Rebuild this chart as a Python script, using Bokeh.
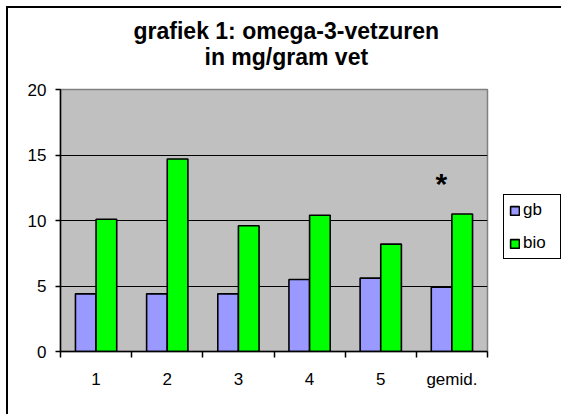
from bokeh.plotting import figure
from bokeh.models import (Range1d, LinearAxis, FixedTicker, Title,
                          Legend, LegendItem, ColumnDataSource, Grid)
from bokeh.transform import dodge
from bokeh.core.properties import value
from bokeh.embed import file_html
from bokeh.resources import INLINE

# ---- data ----
categories = ["1", "2", "3", "4", "5", "gemid."]
gb = [4.4, 4.4, 4.4, 5.5, 5.6, 4.9]
bio = [10.1, 14.7, 9.6, 10.4, 8.2, 10.5]
series_names = ["gb", "bio"]
y_ticks = [0, 5, 10, 15, 20]
title_lines = ["grafiek 1: omega-3-vetzuren", "in mg/gram vet"]
marker_cat = ["gemid."]
marker_y = [12.8]
marker_text = ["*"]

FONT = "Liberation Sans"

n = len(categories)
centers = [i + 0.5 for i in range(n)]

p = figure(x_range=Range1d(0, n), y_range=Range1d(y_ticks[0], y_ticks[-1]),
           frame_width=427, frame_height=262, output_backend="svg", toolbar_location=None,
           x_axis_type=None, y_axis_type=None, title=None,
           min_border_left=52, min_border_right=74, min_border_top=81, min_border_bottom=63)
p.styles = {"border-left": "2px solid black", "border-top": "2px solid black",
            "margin-left": "6px", "margin-top": "6px"}
p.background_fill_color = "#C0C0C0"
p.border_fill_color = "white"
p.outline_line_color = "#808080"
p.outline_line_width = 1.5

# grid
p.add_layout(Grid(dimension=1, ticker=FixedTicker(ticks=y_ticks[1:-1]),
                  grid_line_color="black", grid_line_width=1.2))

src = ColumnDataSource(dict(x=centers, cat=categories, gb=gb, bio=bio))
r1 = p.vbar(x=dodge("x", -0.145), top="gb", width=0.29, source=src,
            fill_color="#9999FF", line_color="black", line_width=1.6)
r2 = p.vbar(x=dodge("x", 0.145), top="bio", width=0.29, source=src,
            fill_color="#00FF00", line_color="black", line_width=1.6)

msrc = ColumnDataSource(dict(x=[categories.index(c) + 0.5 for c in marker_cat],
                             y=marker_y, t=marker_text))
p.text(x=dodge("x", -0.15), y="y", text="t", source=msrc,
       text_font=value(FONT), text_font_size="30px", text_font_style="bold",
       text_align="center", text_baseline="middle", text_color="black")

# y axis
yax = LinearAxis(ticker=FixedTicker(ticks=y_ticks), major_tick_in=0, major_tick_out=5,
                 minor_tick_line_color=None, axis_line_color="black", axis_line_width=1.5,
                 major_tick_line_color="black", major_tick_line_width=1.5,
                 major_label_text_font=FONT, major_label_text_font_size="17px",
                 major_label_text_color="black", major_label_standoff=9)
p.add_layout(yax, "left")

# x axis (ticks between categories, labels at centers)
xax = LinearAxis(ticker=FixedTicker(ticks=centers, minor_ticks=list(range(n + 1))),
                 major_label_overrides={c: lab for c, lab in zip(centers, categories)},
                 major_tick_in=0, major_tick_out=0, major_tick_line_color=None,
                 minor_tick_in=0, minor_tick_out=6, minor_tick_line_color="black",
                 minor_tick_line_width=1.5, axis_line_color="black", axis_line_width=1.5,
                 major_label_text_font=FONT, major_label_text_font_size="17px",
                 major_label_text_color="black", major_label_standoff=12)
p.add_layout(xax, "below")

# titles (a blank spacer title keeps the two lines clear of the plot area)
spacer = Title(text=" ", text_font=FONT, text_font_size="10px", standoff=7)
t2 = Title(text=title_lines[1], align="left", offset=144, text_font=FONT,
           text_font_size="23px", text_font_style="bold", text_color="black", standoff=0)
t1 = Title(text=title_lines[0], align="left", offset=73, text_font=FONT,
           text_font_size="23px", text_font_style="bold", text_color="black", standoff=-4)
p.add_layout(spacer, "above")
p.add_layout(t2, "above")
p.add_layout(t1, "above")

legend = Legend(items=[LegendItem(label=series_names[0], renderers=[r1]),
                       LegendItem(label=series_names[1], renderers=[r2])],
                location=(16, 92), border_line_color="black", border_line_width=1.5,
                border_line_alpha=1.0,
                background_fill_color="white", background_fill_alpha=1.0,
                padding=5, spacing=13, margin=0, label_height=20, label_width=32,
                glyph_height=11, glyph_width=11, label_standoff=3,
                label_text_font=FONT, label_text_font_size="17px", label_text_color="black")
p.add_layout(legend, "right")

open("out.html", "w").write(file_html(p, INLINE))
